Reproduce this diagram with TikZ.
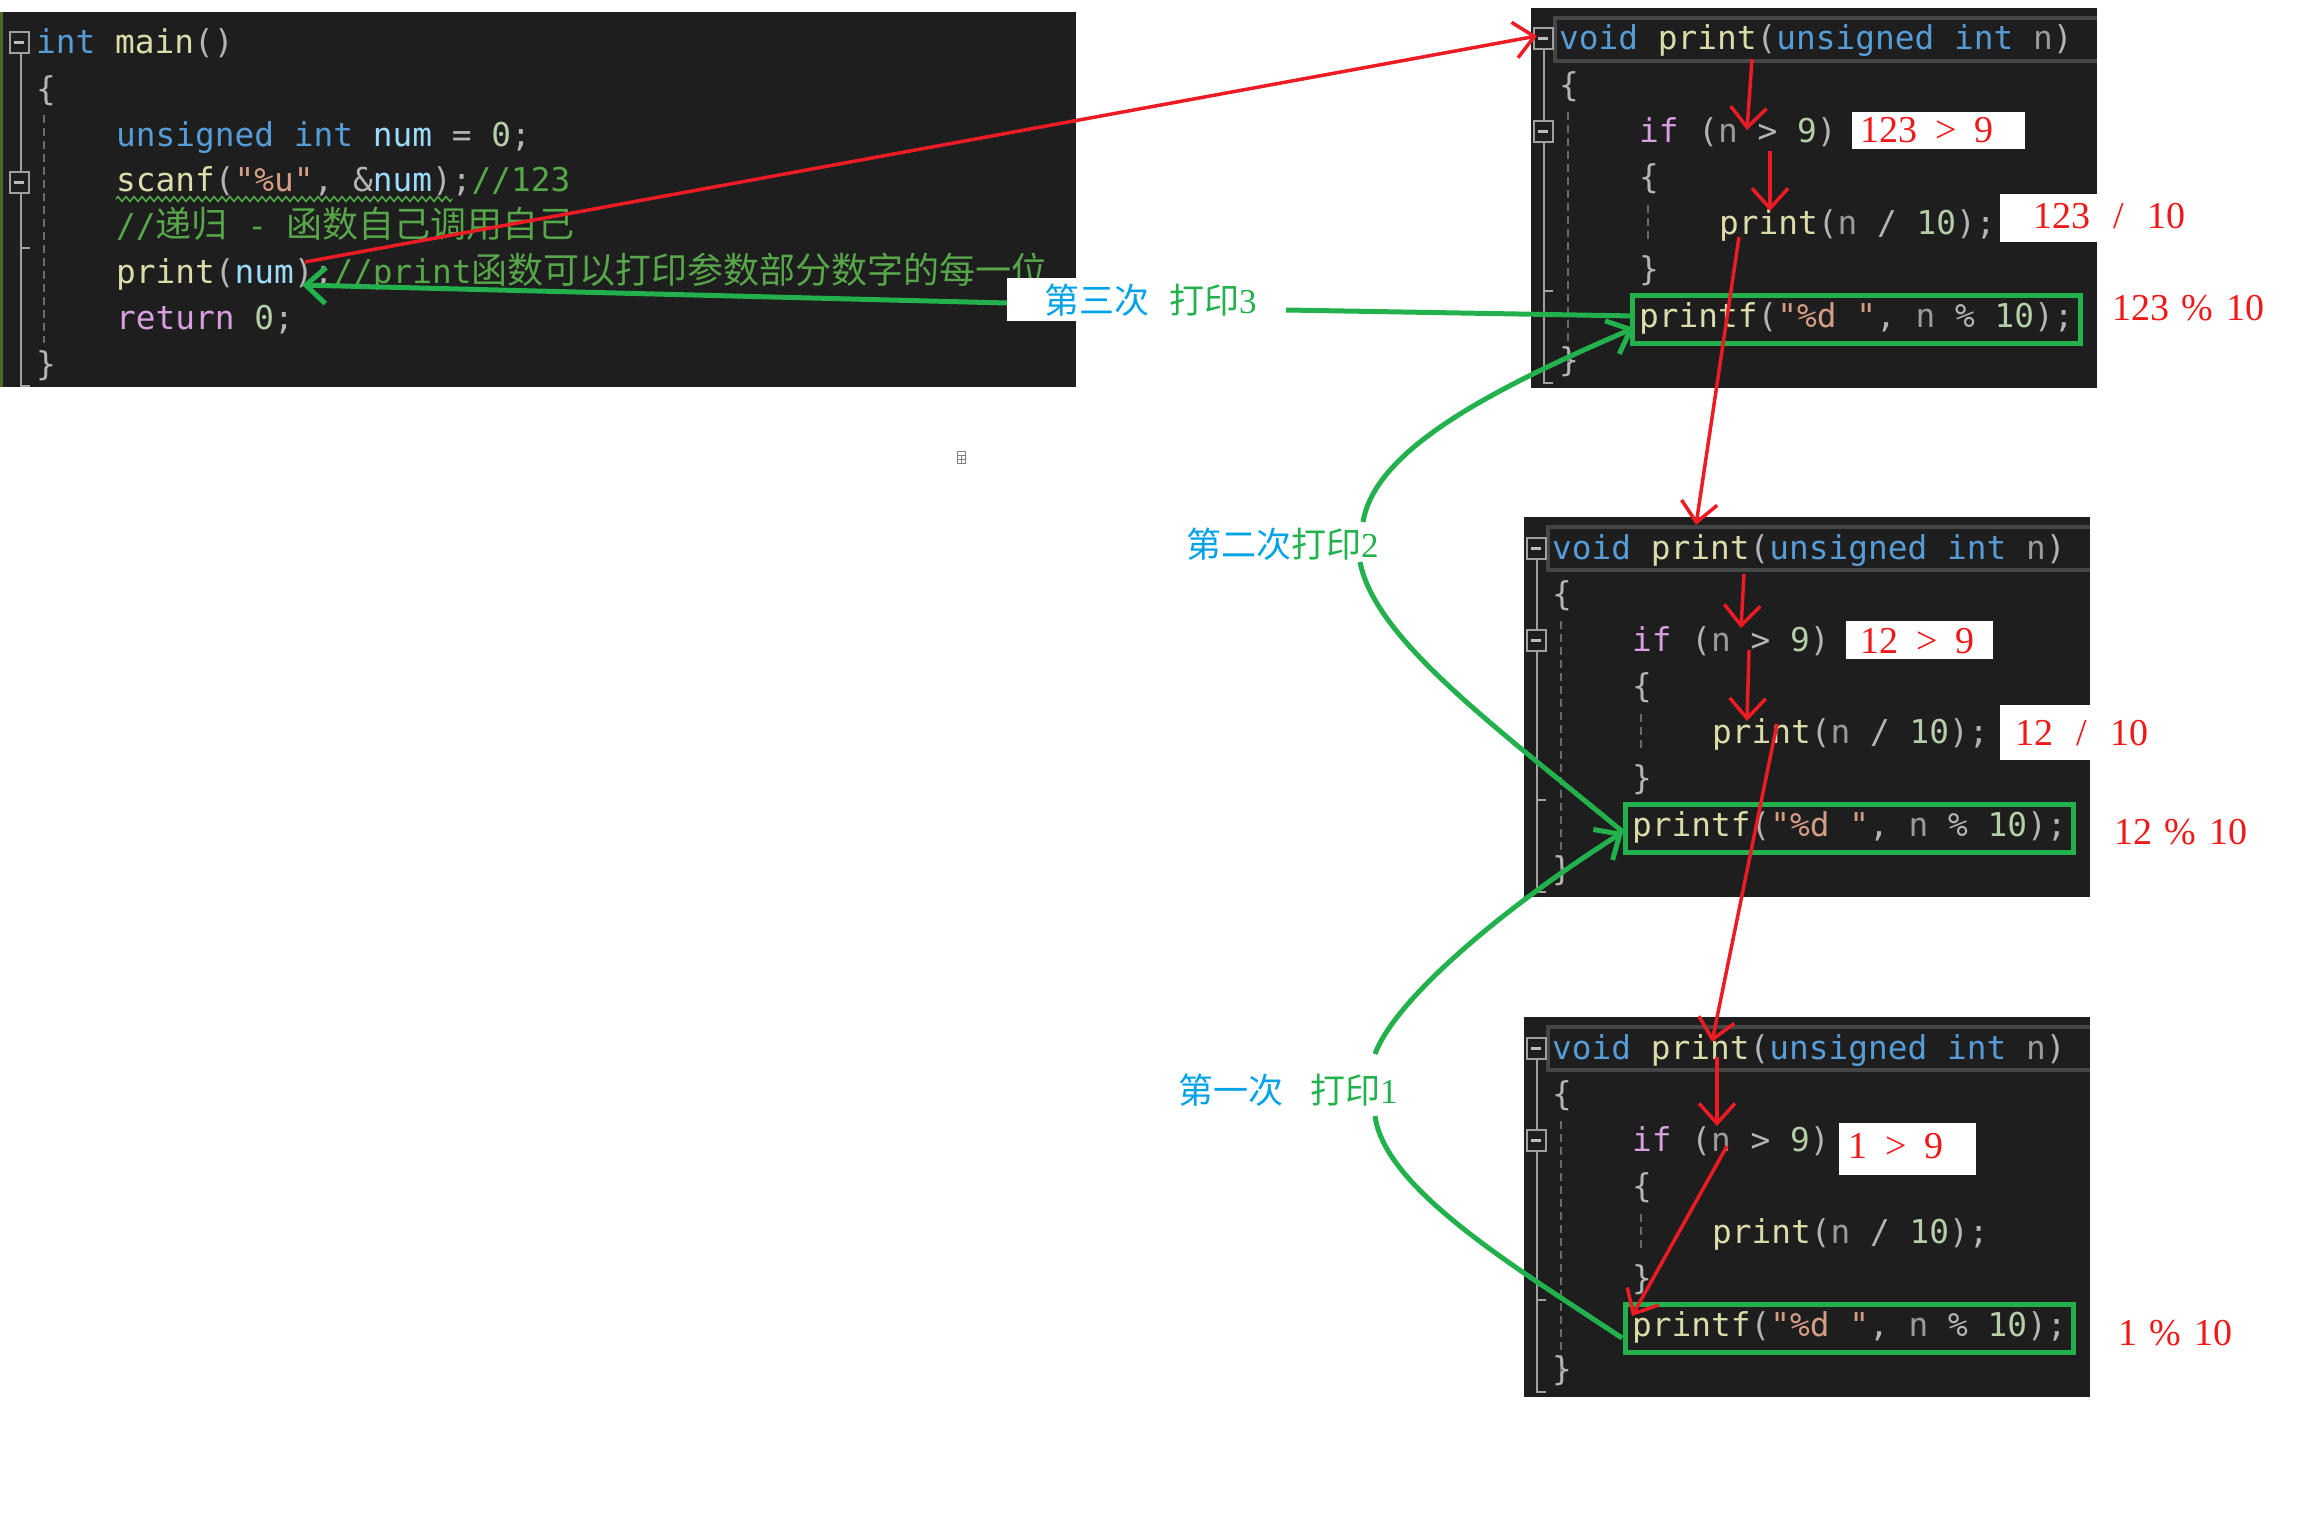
\documentclass[tikz,border=0pt]{standalone}
\usepackage{fontspec}
\setmainfont{Liberation Serif}
\setmonofont{DejaVu Sans Mono}
\newfontfamily\cjk{Noto Sans CJK SC}
\usetikzlibrary{arrows.meta,decorations.pathmorphing}
\definecolor{vsbg}{HTML}{1E1E1E}
\definecolor{kwc}{HTML}{569CD6}
\definecolor{fnc}{HTML}{DCDCAA}
\definecolor{varc}{HTML}{9CDCFE}
\definecolor{prmc}{HTML}{9A9A9A}
\definecolor{txtc}{HTML}{DCDCDC}
\definecolor{punc}{HTML}{B4B4B4}
\definecolor{numc}{HTML}{B5CEA8}
\definecolor{strc}{HTML}{D69D85}
\definecolor{cmtc}{HTML}{57A64A}
\definecolor{ctlc}{HTML}{D8A0DF}
\definecolor{pred}{HTML}{ED1C24}
\definecolor{redt}{HTML}{F01818}
\definecolor{pgreen}{HTML}{22B14C}
\definecolor{pblue}{HTML}{00A2E8}
\definecolor{gutc}{HTML}{A0A0A0}
\definecolor{guidec}{HTML}{6A6A6A}
\definecolor{hdrc}{HTML}{464646}
\definecolor{edgec}{HTML}{4B6A2A}
\newcommand\ckw[1]{\textcolor{kwc}{#1}}
\newcommand\cfn[1]{\textcolor{fnc}{#1}}
\newcommand\cvar[1]{\textcolor{varc}{#1}}
\newcommand\cprm[1]{\textcolor{prmc}{#1}}
\newcommand\cpun[1]{\textcolor{punc}{#1}}
\newcommand\cnum[1]{\textcolor{numc}{#1}}
\newcommand\cstr[1]{\textcolor{strc}{#1}}
\newcommand\ccmt[1]{\textcolor{cmtc}{#1}}
\newcommand\cctl[1]{\textcolor{ctlc}{#1}}
\newcommand\zh[1]{{\cjk\fontsize{36}{40}\selectfont #1}}
\newcommand\rch[1]{\makebox[19pt]{#1}}
\newcommand\codefont{\ttfamily\fontsize{32.8}{40}\selectfont}
\tikzset{
  codeline/.style={anchor=base west, inner sep=0pt, font=\codefont, text=txtc},
  redlab/.style={anchor=base west, inner sep=0pt, text=redt, font=\rmfamily\fontsize{38}{40}\selectfont},
  lbl/.style={anchor=base west, inner sep=0pt, font=\cjk\fontsize{35}{40}\selectfont},
  foldbox/.style={draw=gutc, line width=2pt, fill=vsbg, minimum width=19pt, minimum height=21pt, inner sep=0pt,
    path picture={\draw[gutc!70!white, line width=3pt] ([xshift=4.5pt]path picture bounding box.west) -- ([xshift=-4.5pt]path picture bounding box.east);}},
  redarr/.style={draw=pred, line width=3.5pt, -{Straight Barb[length=20pt,width=36pt]}},
  grnline/.style={draw=pgreen, line width=5pt},
  grnarr/.style={draw=pgreen, line width=5pt, -{Straight Barb[length=20pt,width=36pt]}},
  guide/.style={guidec, line width=2pt, dash pattern=on 8pt off 5pt},
  gutter/.style={gutc, line width=2pt}
}
\newcommand\pbox[2]{%
\begin{scope}[shift={#2}]
 \fill[vsbg] (0,0) rectangle (566,380);
 \draw[hdrc, line width=4pt] (566,10) -- (24,10) -- (24,53) -- (566,53);
 \draw[gutter] (13,42) -- (13,113) (13,134) -- (13,375) -- (22,375) (13,283) -- (22,283);
 \draw[guide] (37,104) -- (37,359) (117,197) -- (117,236);
 \node[foldbox] (#1fa) at (12,31) {};
 \node[foldbox] (#1fb) at (12,123) {};
 \node[codeline] (#1c1) at (28,42) {\ckw{void} \cfn{print}\cpun{(}\ckw{unsigned} \ckw{int} \cprm{n}\cpun{)}};
 \node[codeline] (#1c2) at (28,88) {\cpun{\{}};
 \node[codeline] (#1c3) at (108,134) {\cctl{if} \cpun{(}\cprm{n} \cpun{>} \cnum{9}\cpun{)}};
 \node[codeline] (#1c4) at (108,180) {\cpun{\{}};
 \node[codeline] (#1c5) at (188,226) {\cfn{print}\cpun{(}\cprm{n} \cpun{/} \cnum{10}\cpun{);}};
 \node[codeline] (#1c6) at (108,272) {\cpun{\}}};
 \node[codeline] (#1c7) at (108,319) {\cfn{printf}\cpun{(}\cstr{"\%d "}\cpun{,} \cprm{n} \cpun{\%} \cnum{10}\cpun{);}};
 \node[codeline] (#1c8) at (28,363) {\cpun{\}}};
 \draw[pgreen, line width=5pt] (101,287) rectangle (549,335);
\end{scope}}
\begin{document}
\begin{tikzpicture}[x=1pt,y=-1pt]
\useasboundingbox (0,0) rectangle (2318,1528);
\fill[white] (0,0) rectangle (2318,1528);
% main box
\fill[vsbg] (0,12) rectangle (1076,387);
\draw[edgec, line width=3pt] (1.5,12) -- (1.5,387);
\draw[gutter] (21,54) -- (21,171) (21,194) -- (21,386) -- (30,386) (21,248) -- (30,248);
\draw[guide] (44,115) -- (44,343);
\node[foldbox] (mfa) at (19,43) {};
\node[foldbox] (mfb) at (19,182) {};
\node[codeline] (m1) at (36,54) {\ckw{int} \cfn{main}\cpun{()}};
\node[codeline] (m2) at (36,100) {\cpun{\{}};
\node[codeline] (m3) at (116,146) {\ckw{unsigned} \ckw{int} \cvar{num} \cpun{=} \cnum{0}\cpun{;}};
\node[codeline] (m4) at (116,191) {\cfn{scanf}\cpun{(}\cstr{"\%u"}\cpun{,} \cpun{\&}\cvar{num}\cpun{);}\ccmt{//123}};
\node[codeline] (m5) at (116,237) {\ccmt{//\zh{递归} - \zh{函数自己调用自己}}};
\node[codeline] (m6) at (116,283) {\cfn{print}\cpun{(}\cvar{num}\cpun{);}\ccmt{//print\zh{函数可以打印参数部分数字的每一位}}};
\node[codeline] (m7) at (116,329) {\cctl{return} \cnum{0}\cpun{;}};
\node[codeline] (m8) at (36,375) {\cpun{\}}};
\draw[cmtc, line width=1.5pt, decorate, decoration={zigzag, segment length=8pt, amplitude=2.5pt}] (116,199) -- (452,199);
% print boxes
\pbox{ba}{(1531,8)}
\pbox{bb}{(1524,517)}
\pbox{bc}{(1524,1017)}
% red labels
\fill[white] (1852,112) rectangle (2025,149);
\fill[white] (2000,194) rectangle (2097,242);
\fill[white] (1846,621) rectangle (1993,659);
\fill[white] (2000,705) rectangle (2090,760);
\fill[white] (1839,1123) rectangle (1976,1175);
\node[redlab] (ra1) at (1860,142) {\rch1\rch2\rch3\rch{}\rch{>}\rch{}\rch9};
\node[redlab] (ra2) at (2033,228) {\rch1\rch2\rch3\rch{}\rch{/}\rch{}\rch1\rch0};
\node[redlab] (ra3) at (2112,320) {\rch1\rch2\rch3\rch{}\rch{\%}\rch{}\rch1\rch0};
\node[redlab] (rb1) at (1860,653) {\rch1\rch2\rch{}\rch{>}\rch{}\rch9};
\node[redlab] (rb2) at (2015,745) {\rch1\rch2\rch{}\rch{/}\rch{}\rch1\rch0};
\node[redlab] (rb3) at (2114,844) {\rch1\rch2\rch{}\rch{\%}\rch{}\rch1\rch0};
\node[redlab] (rc1) at (1848,1158) {\rch1\rch{}\rch{>}\rch{}\rch9};
\node[redlab] (rc3) at (2118,1345) {\rch1\rch{}\rch{\%}\rch{}\rch1\rch0};
% small glyph
\draw[gray, line width=1pt] (957,451) rectangle (965,463) (957,455) -- (965,455) (957,459) -- (965,459) (961,455) -- (961,463);
% labels
\fill[white] (1007,278) rectangle (1286,321);
\node[lbl] (lab3) at (1044,313) {\textcolor{pblue}{第三次}\hspace{20pt}\textcolor{pgreen}{打印{\rmfamily 3}}};
\node[lbl] (lab2) at (1186,557) {\textcolor{pblue}{第二次}\textcolor{pgreen}{打印{\rmfamily 2}}};
\node[lbl] (lab1) at (1178,1103) {\textcolor{pblue}{第一次}\hspace{27pt}\textcolor{pgreen}{打印{\rmfamily 1}}};
% coordinates
\coordinate (mainpr) at (305,262);
\coordinate (mainpg) at (302,285);
\coordinate (b1in) at (1537,36);
\coordinate (r2s) at (1752,59);  \coordinate (r2e) at (1747,130);
\coordinate (r3s) at (1770,151); \coordinate (r3e) at (1770,211);
\coordinate (r4s) at (1739,237); \coordinate (r4e) at (1696,525);
\coordinate (r5s) at (1744,574); \coordinate (r5e) at (1741,628);
\coordinate (r6s) at (1749,650); \coordinate (r6e) at (1747,721);
\coordinate (r7s) at (1777,724); \coordinate (r7e) at (1712,1042);
\coordinate (r8s) at (1717,1057); \coordinate (r8e) at (1717,1126);
\coordinate (r9s) at (1727,1146); \coordinate (r9e) at (1632,1316);
\coordinate (p1w) at (1635,316);
\coordinate (p1wb) at (1634,328);
\coordinate (l3e) at (1286,310);
\coordinate (l3w) at (1007,303);
\coordinate (p2w) at (1623,832);
\coordinate (l2b) at (1360,562);
\coordinate (l2t) at (1363,522);
\coordinate (p3w) at (1622,1338);
\coordinate (l1b) at (1375,1116);
\coordinate (l1t) at (1375,1054);
% red connectors
\draw[redarr] (mainpr) -- (b1in);
\draw[redarr] (r2s) -- (r2e);
\draw[redarr] (r3s) -- (r3e);
\draw[redarr] (r4s) -- (r4e);
\draw[redarr] (r5s) -- (r5e);
\draw[redarr] (r6s) -- (r6e);
\draw[redarr] (r7s) -- (r7e);
\draw[redarr] (r8s) -- (r8e);
\draw[redarr] (r9s) -- (r9e);
% green connectors
\draw[grnline] (p1w) -- (l3e);
\draw[grnarr] (l3w) -- (mainpg);
\draw[grnline] (p2w) .. controls (1500,730) and (1375,640) .. (l2b);
\draw[grnarr] (l2t) .. controls (1375,450) and (1490,390) .. (p1wb);
\draw[grnline] (p3w) .. controls (1520,1270) and (1385,1190) .. (l1b);
\draw[grnarr] (l1t) .. controls (1395,1000) and (1500,910) .. (p2w);
\end{tikzpicture}
\end{document}
